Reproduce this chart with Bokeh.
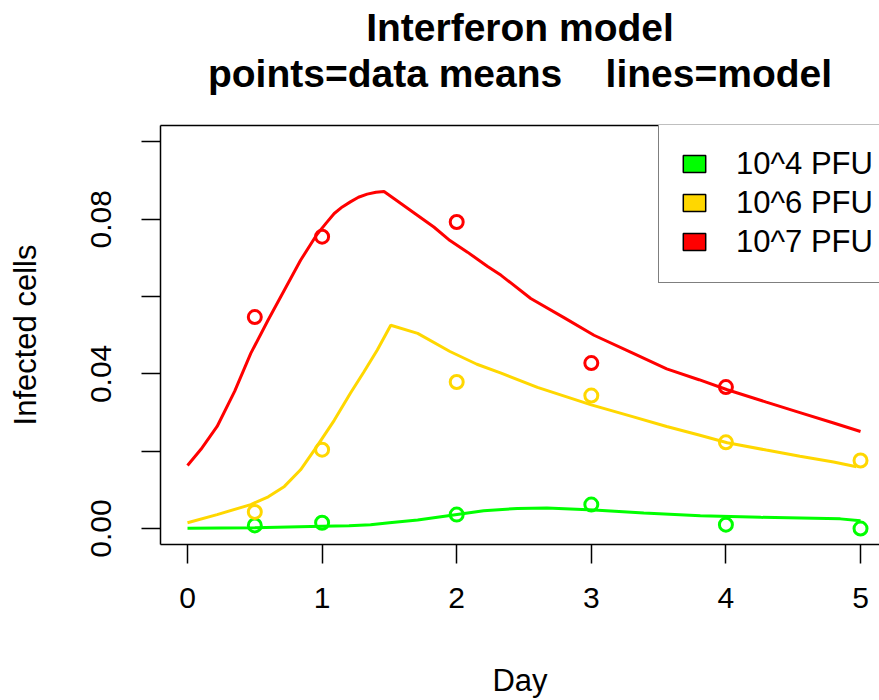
from bokeh.plotting import figure
from bokeh.models import (Range1d, LinearAxis, FixedTicker, Title, Legend, LegendItem,
                          PrintfTickFormatter)
from bokeh.embed import file_html
from bokeh.resources import INLINE

# ---- data ----
obs_days = [0.5, 1, 2, 3, 4, 5]
obs_days_1e7 = [0.5, 1, 2, 3, 4]
obs_1e4 = [0.0008, 0.0015, 0.0036, 0.0062, 0.0010, 0.0000]
obs_1e6 = [0.0043, 0.0204, 0.0379, 0.0344, 0.0223, 0.0176]
obs_1e7 = [0.0547, 0.0755, 0.0793, 0.0428, 0.0366]

model_days_1e4 = [0, 0.5, 1.0, 1.2, 1.36, 1.5, 1.71, 1.95, 2.2, 2.45, 2.67, 3.02, 3.39, 3.81, 4.26, 4.85, 5.0]
model_1e4 = [0.0001, 0.0002, 0.0006, 0.0007, 0.0010, 0.0015, 0.0022, 0.0034, 0.0046, 0.0052, 0.0053,
             0.0048, 0.0040, 0.0033, 0.0029, 0.0025, 0.0020]

model_days_1e6 = [0, 0.22, 0.47, 0.6, 0.72, 0.84, 0.96, 1.09, 1.21, 1.31, 1.41, 1.51, 1.71, 1.95, 2.15,
                  2.33, 2.6, 3.0, 3.3, 3.56, 3.8, 4.01, 4.3, 4.55, 4.8, 4.97]
model_1e6 = [0.0015, 0.0036, 0.0062, 0.0082, 0.0109, 0.0152, 0.0212, 0.0280, 0.0350, 0.0405, 0.0462,
             0.0526, 0.0505, 0.0458, 0.0425, 0.0402, 0.0365, 0.0320, 0.0290, 0.0264, 0.0242, 0.0222,
             0.0203, 0.0187, 0.0172, 0.0160]

model_days_1e7 = [0, 0.1, 0.22, 0.35, 0.47, 0.6, 0.72, 0.84, 0.96, 1.03, 1.09, 1.15, 1.21, 1.27, 1.335,
                  1.40, 1.46, 1.58, 1.71, 1.83, 1.95, 2.08, 2.23, 2.33, 2.55, 2.8, 3.02, 3.3, 3.56,
                  3.8, 4.01, 4.3, 4.55, 4.8, 5.0]
model_1e7 = [0.0163, 0.0205, 0.0264, 0.0355, 0.0453, 0.0540, 0.0617, 0.0694, 0.0760, 0.0790, 0.0815,
             0.0832, 0.0845, 0.0857, 0.0865, 0.0870, 0.0872, 0.0842, 0.0810, 0.0780, 0.0745, 0.0715,
             0.0678, 0.0655, 0.0595, 0.0545, 0.0500, 0.0455, 0.0413, 0.0385, 0.0359, 0.0327, 0.0300,
             0.0273, 0.0251]

series_labels = ["10^4 PFU", "10^6 PFU", "10^7 PFU"]
series_colors = ["#00FF00", "#FFD700", "#FF0000"]
x_ticks = [0, 1, 2, 3, 4, 5]
y_major_ticks = [0.0, 0.04, 0.08]
y_minor_ticks = [0.02, 0.06, 0.10]
title_line1 = "Interferon model"
title_line2 = "points=data means \u00a0\u00a0\u00a0lines=model"

FONT = "Liberation Sans"

p = figure(width=879, height=700, output_backend="svg", toolbar_location=None,
           x_range=Range1d(-0.2006, 5.141), y_range=Range1d(-0.00413, 0.10426),
           min_border_left=160, min_border_right=0, min_border_top=125, min_border_bottom=155,
           outline_line_color=None, background_fill_color="white", border_fill_color="white",
           x_axis_label="Day", y_axis_label="Infected cells")
p.grid.visible = False

# x axis
xa = p.xaxis[0]
xa.ticker = FixedTicker(ticks=x_ticks)
xa.formatter = PrintfTickFormatter(format="%d")
xa.major_tick_out = 19
xa.major_tick_in = 0
xa.minor_tick_line_color = None
xa.major_tick_line_width = 1.5
xa.axis_line_width = 1.5
xa.axis_line_color = "black"
xa.major_tick_line_color = "black"
xa.major_label_text_font = FONT
xa.major_label_text_font_size = "30px"
xa.major_label_text_color = "black"
xa.major_label_standoff = 24
xa.axis_label_text_font = FONT
xa.axis_label_text_font_size = "31px"
xa.axis_label_text_font_style = "normal"
xa.axis_label_text_color = "black"
xa.axis_label_standoff = 52

# y axis
ya = p.yaxis[0]
ya.ticker = FixedTicker(ticks=y_major_ticks, minor_ticks=y_minor_ticks)
ya.formatter = PrintfTickFormatter(format="%.2f")
ya.major_tick_out = 19
ya.major_tick_in = 0
ya.minor_tick_out = 19
ya.minor_tick_in = 0
ya.minor_tick_line_color = "black"
ya.minor_tick_line_width = 1.5
ya.major_tick_line_width = 1.5
ya.major_tick_line_color = "black"
ya.axis_line_width = 1.5
ya.axis_line_color = "black"
ya.major_label_orientation = "parallel"
ya.major_label_text_font = FONT
ya.major_label_text_font_size = "30px"
ya.major_label_text_color = "black"
ya.major_label_standoff = 30
ya.axis_label_text_font = FONT
ya.axis_label_text_font_size = "31px"
ya.axis_label_text_font_style = "normal"
ya.axis_label_text_color = "black"
ya.axis_label_standoff = 46

# top border line of the box
top_axis = LinearAxis(ticker=FixedTicker(ticks=[]), major_tick_out=0, major_tick_in=0,
                      minor_tick_out=0, minor_tick_in=0, major_label_text_font_size="0px",
                      axis_line_color="black", axis_line_width=1.5)
p.add_layout(top_axis, "above")

# titles (first added = closest to plot)
p.title.text = ""
t2 = Title(text=title_line2, align="center", text_font=FONT, offset=4,
           text_font_size="39px", text_font_style="bold", text_color="black", standoff=62)
t1 = Title(text=title_line1, align="center", text_font=FONT, offset=4,
           text_font_size="39px", text_font_style="bold", text_color="black", standoff=-60)
p.add_layout(t2, "above")
p.add_layout(t1, "above")

# model lines
for xs, ys, c in [(model_days_1e4, model_1e4, series_colors[0]),
                  (model_days_1e6, model_1e6, series_colors[1]),
                  (model_days_1e7, model_1e7, series_colors[2])]:
    p.line(xs, ys, line_color=c, line_width=3)

# data means
obs_sets = [(obs_days, obs_1e4), (obs_days, obs_1e6), (obs_days_1e7, obs_1e7)]
for (xs, ys), c in zip(obs_sets, series_colors):
    p.scatter(xs, ys, marker="circle", size=13, fill_color=None, line_color=c, line_width=3)

# legend swatches: zero-size rects (draw nothing in the plot, give the legend filled boxes)
items = []
for (xs, ys), lab, c in zip(obs_sets, series_labels, series_colors):
    r = p.rect(x=xs, y=ys, width=0, height=0, width_units="screen", height_units="screen",
               fill_color=c, line_color="black", line_width=1.5)
    items.append(LegendItem(label=lab, renderers=[r]))

legend = Legend(items=items, location=(498, 261), padding=21, spacing=0, glyph_width=28,
                glyph_height=21, label_height=39, label_standoff=28, margin=0,
                label_text_font=FONT, label_text_font_size="31px", label_text_color="black",
                border_line_color="black", border_line_width=1.5, background_fill_color="white",
                background_fill_alpha=1.0)
p.add_layout(legend)

open("out.html", "w").write(file_html(p, INLINE))
